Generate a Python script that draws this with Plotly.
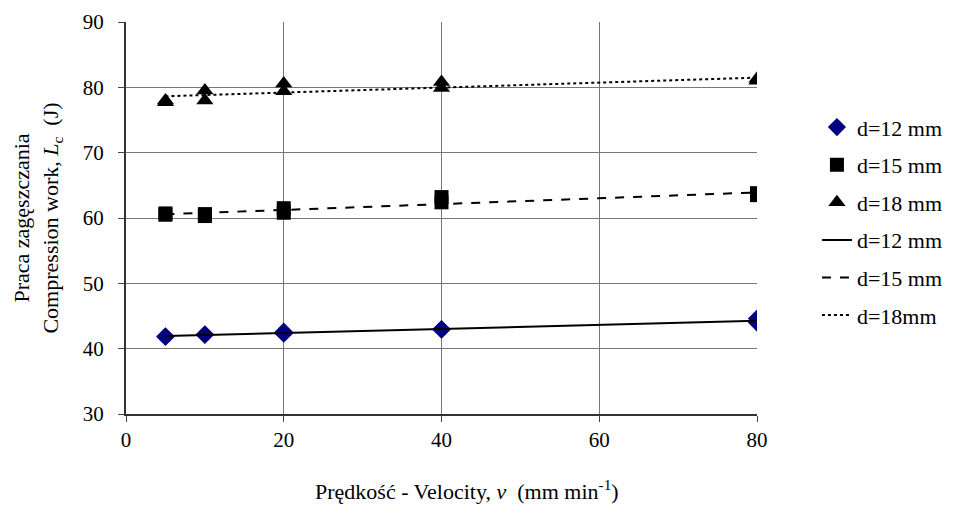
import numpy as np
import plotly.graph_objects as go

# Data (replicates per velocity)
velocity = [5, 5, 10, 10, 20, 20, 40, 40, 80, 80]
d12 = [41.8, 41.9, 42.1, 42.2, 42.3, 42.6, 42.9, 43.0, 44.0, 44.6]
d15 = [60.5, 60.7, 60.3, 60.6, 60.8, 61.5, 62.4, 63.2, 63.5, 63.8]
d18 = [77.7, 78.0, 78.0, 79.5, 79.4, 80.6, 79.9, 80.8, 81.0, 81.3]

marker_names = ["d=12 mm", "d=15 mm", "d=18 mm"]
line_names = ["d=12 mm", "d=15 mm", "d=18mm"]

x_ticks = [0, 20, 40, 60, 80]
y_ticks = [30, 40, 50, 60, 70, 80, 90]

FONT = "Times New Roman, Liberation Serif, DejaVu Serif, serif"

fig = go.Figure()

series = [d12, d15, d18]
symbols = ["diamond", "square", "triangle-up"]
colors = ["#000080", "black", "black"]
sizes = [14, 14, 15]
dashes = ["solid", "dash", "dot"]

for i, (ys, name) in enumerate(zip(series, marker_names)):
    fig.add_trace(go.Scatter(
        x=velocity, y=ys, mode="markers", name=name,
        legendgroup=f"m{i}",
        marker=dict(symbol=symbols[i], color=colors[i], size=sizes[i],
                    line=dict(width=0)),
    ))

xfit = np.array([min(velocity), max(velocity)])
for i, (ys, name) in enumerate(zip(series, line_names)):
    k, b = np.polyfit(velocity, ys, 1)
    fig.add_trace(go.Scatter(
        x=xfit, y=k * xfit + b, mode="lines", name=name,
        legendgroup=f"l{i}",
        line=dict(color="black", width=2, dash=dashes[i]),
    ))

fig.add_annotation(
    text="Prędkość - Velocity, <i>v</i>  (mm min<sup>-1</sup>)",
    xref="paper", yref="paper", x=0.54, y=-0.195,
    xanchor="center", yanchor="middle", showarrow=False,
    font=dict(family=FONT, size=22, color="black"),
)

fig.update_layout(
    width=955, height=518,
    margin=dict(l=118, r=206, t=14, b=112),
    paper_bgcolor="white", plot_bgcolor="white",
    font=dict(family=FONT, size=21, color="black"),
    legend=dict(x=1.095, xanchor="left", y=0.785, yanchor="top",
                font=dict(family=FONT, size=22, color="black"),
                tracegroupgap=6, traceorder="grouped",
                bgcolor="rgba(0,0,0,0)"),
    xaxis=dict(
        range=[0, 80], tickvals=x_ticks, ticks="outside", ticklen=6,
        tickcolor="#444", showgrid=True, gridcolor="#777", gridwidth=1,
        showline=True, linecolor="#333", linewidth=2, zeroline=False,
        automargin=False,
    ),
    yaxis=dict(
        range=[30, 90], tickvals=y_ticks, ticks="outside", ticklen=6,
        tickcolor="#444", showgrid=True, gridcolor="#777", gridwidth=1,
        showline=True, linecolor="#333", linewidth=2, zeroline=False,
        automargin=False, ticklabelstandoff=10,
        title=dict(text="Praca zagęszczania<br>Compression work, <i>L</i><sub>c</sub>  (J)",
                   font=dict(family=FONT, size=22), standoff=18),
    ),
)

fig.write_html("out.html")
